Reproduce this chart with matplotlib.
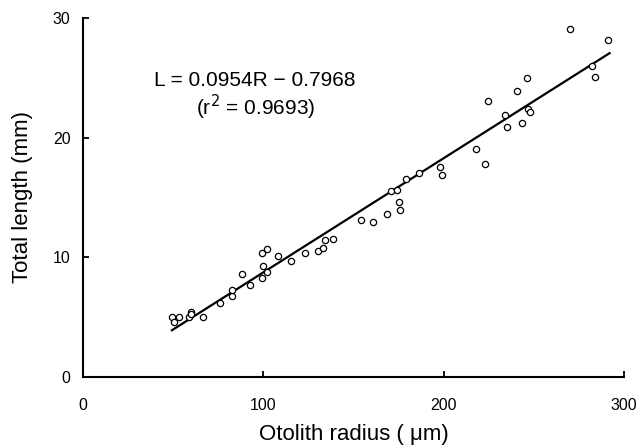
import matplotlib
matplotlib.use("Agg")
import numpy as np
import matplotlib.pyplot as plt

# otolith radius (um) and total length (mm)
radius = [49.2, 50.6, 53.4, 59.0, 59.7, 60.1, 66.7, 76.2, 82.8, 82.8,
          88.4, 92.4, 99.3, 99.7, 99.3, 102.0, 102.0, 108.2, 115.4, 123.3,
          130.3, 133.3, 134.4, 138.5, 154.3, 160.9, 168.6, 175.1, 176.0, 170.8,
          174.0, 179.0, 186.2, 197.8, 199.1, 218.0, 222.8, 224.6, 234.2, 235.0,
          240.9, 243.7, 246.4, 246.8, 248.1, 269.9, 282.1, 284.1, 291.3]
length = [4.99, 4.62, 4.99, 4.99, 5.43, 5.23, 5.04, 6.15, 6.74, 7.30,
          8.58, 7.66, 8.27, 9.30, 10.39, 10.67, 8.80, 10.14, 9.66, 10.33,
          10.50, 10.80, 11.42, 11.56, 13.10, 12.96, 13.59, 14.62, 13.92, 15.57,
          15.62, 16.54, 17.04, 17.54, 16.90, 19.05, 17.77, 23.08, 21.91, 20.86,
          23.92, 21.25, 24.98, 22.36, 22.16, 29.07, 25.96, 25.06, 28.15]

slope = 0.0954
intercept = -0.7968
r2 = 0.9693
fit_range = [49.3, 292.0]

xticks = [0, 100, 200, 300]
yticks = [0, 10, 20, 30]

plt.rcParams["font.family"] = ["Liberation Sans", "DejaVu Sans"]

fig = plt.figure(figsize=(6.41, 4.46), dpi=100)
ax = fig.add_axes([0.1295, 0.1547, 0.844, 0.805])

ax.plot(radius, length, "o", mfc="white", mec="black", ms=4.5, mew=0.9,
        zorder=3)
xf = np.array(fit_range)
ax.plot(xf, slope * xf + intercept, color="black", lw=1.6, zorder=2)

ax.text(95.5, 24.8, "L = %.4fR \u2212 %.4f" % (slope, -intercept),
        ha="center", va="center", fontsize=15)
ax.text(95.5, 22.5, "(r$^2$ = %.4f)" % r2, ha="center", va="center",
        fontsize=15)

ax.set_xlim(0, 300)
ax.set_ylim(0, 30)
ax.set_xticks(xticks)
ax.set_yticks(yticks)
ax.spines["top"].set_visible(False)
ax.spines["right"].set_visible(False)
for s in ["left", "bottom"]:
    ax.spines[s].set_linewidth(1.5)
ax.tick_params(direction="in", length=4.5, width=1.3, labelsize=11.5)
ax.tick_params(axis="x", pad=15)
ax.tick_params(axis="y", pad=9)

ax.set_xlabel("Otolith radius ( \u03bcm)", fontsize=16, labelpad=8)
ax.set_ylabel("Total length (mm)", fontsize=16, labelpad=14)

fig.savefig("out.png", dpi=100)
